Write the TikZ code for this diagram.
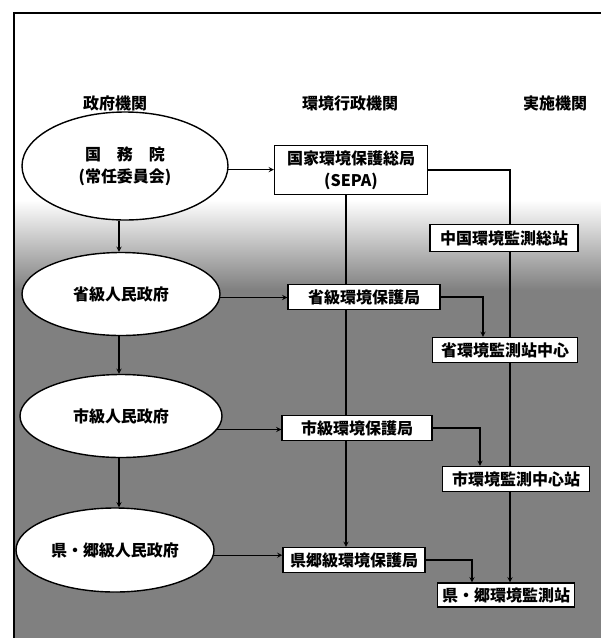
\documentclass[tikz,border=0pt]{standalone}
\usepackage{fontspec}
\setmainfont{Noto Sans CJK JP}
\usepackage{tikz}
\usetikzlibrary{shapes.geometric}

\begin{document}
\begin{tikzpicture}[x=1pt,y=-1pt,>=stealth,
  every node/.style={font=\fontsize{16pt}{22pt}\selectfont\bfseries},
  gov/.style={ellipse,draw,line width=1.4pt,fill=white,inner sep=0pt},
  envbox/.style={rectangle,draw,line width=1.3pt,fill=white,inner sep=0pt},
  link/.style={line width=1.3pt}]
  \useasboundingbox (0,0) rectangle (601,638);
  \shade [top color=white,bottom color=black!50] (14,200) rectangle (601,290);
  \fill [black!50] (14,290) rectangle (601,638);
  \draw [line width=1.3pt] (14,638) -- (14,13) -- (601,13);

  \node (H1) at (115,103) {政府機関};
  \node (H2) at (350,103) {環境行政機関};
  \node (H3) at (555,103) {実施機関};

  \node [gov,minimum width=206pt,minimum height=108pt,align=center] (G1) at (125,166) {国　務　院\\(常任委員会)};
  \node [gov,minimum width=198pt,minimum height=83pt] (G2) at (121,294) {省級人民政府};
  \node [gov,minimum width=202pt,minimum height=83pt] (G3) at (121,416) {市級人民政府};
  \node [gov,minimum width=198pt,minimum height=84pt] (G4) at (115,550) {県・郷級人民政府};

  \node [envbox,minimum width=153pt,minimum height=49pt,align=center] (E1) at (351,170) {国家環境保護総局\\(SEPA)};
  \node [envbox,minimum width=152pt,minimum height=25pt] (E2) at (364,297) {省級環境保護局};
  \node [envbox,minimum width=150pt,minimum height=25pt] (E3) at (357,428) {市級環境保護局};
  \node [envbox,minimum width=142pt,minimum height=25pt] (E4) at (354,560) {県郷級環境保護局};

  \node [envbox,minimum width=148pt,minimum height=27pt] (M1) at (504,238) {中国環境監測総站};
  \node [envbox,minimum width=145pt,minimum height=25pt] (M2) at (505,350) {省環境監測站中心};
  \node [envbox,minimum width=147pt,minimum height=25pt] (M3) at (516,479) {市環境監測中心站};
  \node [envbox,minimum width=137pt,minimum height=24pt] (M4) at (506,595) {県・郷環境監測站};

  \coordinate (CG) at (119,0);
  \coordinate (CL) at (346,0);
  \coordinate (CR) at (510,0);
  \coordinate (B2) at (483,0);
  \coordinate (B3) at (480,0);
  \coordinate (B4) at (472,0);

  \draw [link,->] (G1.south -| CG) -- (G2.north -| CG);
  \draw [link,->] (G2.south -| CG) -- (G3.north -| CG);
  \draw [link,->] (G3.south -| CG) -- (G4.north -| CG);

  \draw [link,->] (G1.-2) -- (G1.-2 -| E1.west);
  \draw [link,->] (G2.-2) -- (G2.-2 -| E2.west);
  \draw [link,->] (G3.-8) -- (G3.-8 -| E3.west);
  \draw [link,->] (G4.-3) -- (G4.-3 -| E4.west);

  \draw [link] (E1.south -| CL) -- (E2.north -| CL);
  \draw [link] (E2.south -| CL) -- (E3.north -| CL);
  \draw [link,->] (E3.south -| CL) -- (E4.north -| CL);

  \draw [link] (E1.east) -| (M1.north -| CR);
  \draw [link] (M1.south -| CR) -- (M2.north -| CR);
  \draw [link] (M2.south -| CR) -- (M3.north -| CR);
  \draw [link,->] (M3.south -| CR) -- (M4.north -| CR);

  \draw [link,->] (E2.east) -| (M2.north -| B2);
  \draw [link,->] (E3.east) -| (M3.north -| B3);
  \draw [link,->] (E4.east) -| (M4.north -| B4);
\end{tikzpicture}
\end{document}
